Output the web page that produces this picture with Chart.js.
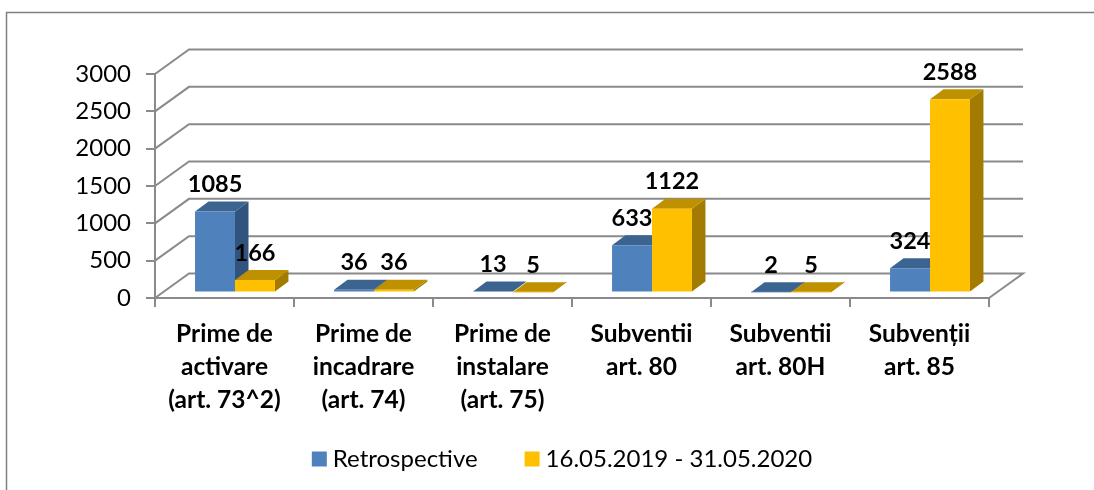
<!DOCTYPE html>
<html><head><meta charset="utf-8">
<style>html,body{margin:0;padding:0;background:#fff}canvas{display:block}</style>
<script src="https://cdn.jsdelivr.net/npm/chart.js@4"></script></head>
<body><canvas id="c" width="1094" height="490"></canvas>
<script>
const categories = [["Prime de","activare","(art. 73^2)"],["Prime de","incadrare","(art. 74)"],["Prime de","instalare","(art. 75)"],["Subventii","art. 80"],["Subventii","art. 80H"],["Subvenții","art. 85"]];
const seriesNames = ["Retrospective","16.05.2019 - 31.05.2020"];
const retrospective = [1085,36,13,633,2,324];
const period = [166,36,5,1122,5,2588];
const yTicks = [0,500,1000,1500,2000,2500,3000];

const FONT = "Lato, Carlito, sans-serif";
const AXIS = "#8a8a8a";
const WALL = {dx:34, dy:-24.5};
const BAR = {sx:10.5, sy:-5.5, dx:13.5, dy:-10};
const LEGEND_SHIFT = 65.5;
const FACES = [{front:"#4F81BD",top:"#3C6491",side:"#31547F"},{front:"#FFC000",top:"#BF9000",side:"#A37B00"}];

const scene = {
  id:"scene",
  afterLayout(ch){
    ch.legend.left += LEGEND_SHIFT; ch.legend.right += LEGEND_SHIFT;
    ch.scales.x.bottom += 60;
  },
  beforeDraw(ch){
    const c = ch.ctx;
    c.save(); c.strokeStyle="#808080"; c.lineWidth=1.5;
    c.beginPath(); c.moveTo(6.5,500); c.lineTo(6.5,12.5); c.lineTo(1094,12.5); c.stroke(); c.restore();
  },
  beforeDatasetsDraw(ch){
    const c = ch.ctx, y = ch.scales.y, a = ch.chartArea;
    c.save(); c.strokeStyle=AXIS; c.lineWidth=2;
    yTicks.forEach(v=>{
      const p = y.getPixelForValue(v);
      c.beginPath(); c.moveTo(a.left,p); c.lineTo(a.left+WALL.dx,p+WALL.dy);
      c.lineTo(a.right+WALL.dx,p+WALL.dy);
      if(v===0){ c.lineTo(a.right,p); }
      c.stroke();
    });
    c.restore();
    c.save(); c.translate(BAR.sx,BAR.sy);
    const metas = [ch.getDatasetMeta(0),ch.getDatasetMeta(1)];
    categories.forEach((_,i)=>{
      metas.forEach((m,k)=>{
        const b=m.data[i], l=b.x-b.width/2, r=b.x+b.width/2, t=b.y, bs=b.base;
        c.fillStyle=FACES[k].side;
        c.beginPath(); c.moveTo(r,t); c.lineTo(r+BAR.dx,t+BAR.dy); c.lineTo(r+BAR.dx,bs+BAR.dy); c.lineTo(r,bs); c.closePath(); c.fill();
        c.fillStyle=FACES[k].top;
        c.beginPath(); c.moveTo(l,t); c.lineTo(l+BAR.dx,t+BAR.dy); c.lineTo(r+BAR.dx,t+BAR.dy); c.lineTo(r,t); c.closePath(); c.fill();
      });
    });
  },
  afterDatasetsDraw(ch){
    const c = ch.ctx;
    c.restore();
    c.save();
    c.font = "bold 23.5px "+FONT; c.fillStyle="#000"; c.textAlign="center"; c.textBaseline="middle";
    ch.data.datasets.forEach((d,k)=>{
      ch.getDatasetMeta(k).data.forEach((b,i)=>{
        c.fillText(String(d.data[i]), b.x+BAR.sx, b.y+BAR.sy+BAR.dy-17);
      });
    });
    c.restore();
  }
};

new Chart(document.getElementById("c"),{
  type:"bar",
  data:{labels:categories,datasets:[
    {label:seriesNames[0],data:retrospective,backgroundColor:FACES[0].front,borderWidth:0,categoryPercentage:0.575,barPercentage:1},
    {label:seriesNames[1],data:period,backgroundColor:FACES[1].front,borderWidth:0,categoryPercentage:0.575,barPercentage:1}
  ]},
  options:{
    responsive:false,animation:false,
    layout:{padding:{left:10,right:105,top:74,bottom:9}},
    plugins:{
      tooltip:{enabled:false},
      legend:{position:"bottom",labels:{usePointStyle:true,pointStyle:"rect",boxWidth:3,boxHeight:15,padding:53,color:"#000",font:{family:FONT,size:24}}}
    },
    scales:{
      x:{
        grid:{display:true,drawOnChartArea:false,tickLength:9,color:AXIS,lineWidth:2,offset:true},
        border:{display:true,color:AXIS,width:2},
        ticks:{color:"#000",maxRotation:0,padding:10,font:{family:FONT,size:24.5,weight:"bold",lineHeight:1.36}},
        afterFit(s){s.height=96;}
      },
      y:{
        min:0,max:3000,afterBuildTicks(s){s.ticks=yTicks.map(v=>({value:v}));},
        grid:{display:true,drawOnChartArea:false,tickLength:9,color:AXIS,lineWidth:2},
        border:{display:true,color:AXIS,width:2},
        ticks:{color:"#000",padding:15,font:{family:FONT,size:24},callback:v=>String(v)},
        afterFit(s){s.width=145;}
      }
    }
  },
  plugins:[scene]
});
</script></body></html>
